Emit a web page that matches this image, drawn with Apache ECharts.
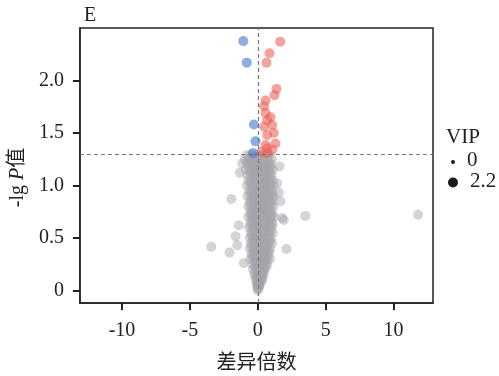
<!DOCTYPE html>
<html>
<head>
<meta charset="utf-8">
<script src="https://cdn.jsdelivr.net/npm/echarts@6/dist/echarts.min.js"></script>
<style>
  html, body { margin: 0; padding: 0; background: #fff; }
  #chart { width: 499px; height: 376px; }
</style>
</head>
<body>
<div id="chart"></div>
<script>
// 横轴刻度 / 纵轴刻度
var xTicks = [-10, -5, 0, 5, 10];
var yTicks = [0, 0.5, 1, 1.5, 2];
var pThreshold = 1.3; // -lg(0.05)

// 上调 (红)
var upPoints = [
  [1.65, 2.37], [0.86, 2.26], [0.64, 2.17], [1.38, 1.92], [1.23, 1.86],
  [0.57, 1.81], [0.46, 1.755], [0.57, 1.69], [0.93, 1.65], [0.69, 1.62],
  [1.06, 1.575], [0.46, 1.56], [1.18, 1.5], [0.69, 1.48], [1.3, 1.4],
  [0.57, 1.385], [1.06, 1.34], [0.69, 1.31], [0.69, 1.355], [0.32, 1.32]
];

// 下调 (蓝)
var downPoints = [
  [-1.07, 2.375], [-0.81, 2.17], [-0.29, 1.58], [-0.17, 1.42], [-0.34, 1.31]
];

// 无显著差异 (灰)
var nsPoints = [
  [-0.8, 1.29], [-0.45, 1.29], [-0.1, 1.29], [0.2, 1.29], [0.5, 1.29], [0.85, 1.29],
  [-0.65, 1.27], [-0.3, 1.27], [0.05, 1.27], [0.35, 1.27], [0.7, 1.27],
  [-0.95, 1.25], [-0.6, 1.25], [-0.25, 1.25], [0.05, 1.25], [0.35, 1.25], [0.7, 1.25], [1.05, 1.25],
  [-0.75, 1.22], [-0.45, 1.22], [-0.1, 1.22], [0.2, 1.22], [0.5, 1.22], [0.85, 1.22],
  [-0.8, 1.2], [-0.4, 1.2], [-0.05, 1.2], [0.3, 1.2], [0.6, 1.2], [0.95, 1.2],
  [-0.65, 1.17], [-0.3, 1.17], [0.0, 1.17], [0.3, 1.17], [0.65, 1.17], [0.95, 1.17],
  [-0.9, 1.15], [-0.55, 1.15], [-0.2, 1.15], [0.15, 1.15], [0.45, 1.15], [0.8, 1.15], [1.1, 1.15],
  [-0.55, 1.12], [-0.15, 1.12], [0.15, 1.12], [0.5, 1.12], [0.85, 1.12],
  [-0.75, 1.1], [-0.35, 1.1], [0.0, 1.1], [0.3, 1.1], [0.65, 1.1], [1.0, 1.1],
  [-0.5, 1.07], [-0.15, 1.07], [0.2, 1.07], [0.55, 1.07], [0.9, 1.07],
  [-0.7, 1.05], [-0.3, 1.05], [0.1, 1.05], [0.4, 1.05], [0.75, 1.05], [1.1, 1.05],
  [-0.55, 1.02], [-0.1, 1.02], [0.25, 1.02], [0.6, 1.02], [0.95, 1.02],
  [-0.8, 1.0], [-0.45, 1.0], [-0.15, 1.0], [0.2, 1.0], [0.5, 1.0], [0.85, 1.0], [1.15, 1.0],
  [-0.45, 0.97], [-0.1, 0.97], [0.2, 0.97], [0.55, 0.97], [0.9, 0.97],
  [-0.65, 0.95], [-0.25, 0.95], [0.05, 0.95], [0.35, 0.95], [0.7, 0.95], [1.05, 0.95],
  [-0.55, 0.92], [-0.25, 0.92], [0.05, 0.92], [0.35, 0.92], [0.7, 0.92], [1.0, 0.92],
  [-0.75, 0.9], [-0.4, 0.9], [-0.1, 0.9], [0.2, 0.9], [0.5, 0.9], [0.85, 0.9], [1.15, 0.9],
  [-0.45, 0.87], [-0.15, 0.87], [0.15, 0.87], [0.45, 0.87], [0.8, 0.87], [1.1, 0.87],
  [-0.6, 0.85], [-0.3, 0.85], [0.0, 0.85], [0.3, 0.85], [0.6, 0.85], [0.95, 0.85],
  [-0.55, 0.82], [-0.25, 0.82], [0.05, 0.82], [0.35, 0.82], [0.7, 0.82], [1.0, 0.82],
  [-0.7, 0.8], [-0.4, 0.8], [-0.15, 0.8], [0.2, 0.8], [0.5, 0.8], [0.85, 0.8], [1.15, 0.8],
  [-0.4, 0.77], [-0.1, 0.77], [0.2, 0.77], [0.5, 0.77], [0.85, 0.77],
  [-0.55, 0.75], [-0.25, 0.75], [0.05, 0.75], [0.35, 0.75], [0.7, 0.75], [1.0, 0.75],
  [-0.55, 0.72], [-0.25, 0.72], [0.1, 0.72], [0.4, 0.72], [0.75, 0.72], [1.05, 0.72],
  [-0.7, 0.7], [-0.4, 0.7], [-0.1, 0.7], [0.25, 0.7], [0.55, 0.7], [0.9, 0.7], [1.2, 0.7],
  [-0.4, 0.67], [-0.05, 0.67], [0.25, 0.67], [0.6, 0.67], [0.9, 0.67],
  [-0.55, 0.65], [-0.2, 0.65], [0.1, 0.65], [0.4, 0.65], [0.75, 0.65], [1.05, 0.65],
  [-0.5, 0.62], [-0.2, 0.62], [0.1, 0.62], [0.45, 0.62], [0.8, 0.62], [1.1, 0.62],
  [-0.65, 0.6], [-0.35, 0.6], [-0.05, 0.6], [0.25, 0.6], [0.6, 0.6], [0.95, 0.6],
  [-0.35, 0.57], [0.0, 0.57], [0.3, 0.57], [0.65, 0.57], [0.95, 0.57],
  [-0.5, 0.55], [-0.15, 0.55], [0.15, 0.55], [0.45, 0.55], [0.8, 0.55], [1.1, 0.55],
  [-0.45, 0.52], [-0.15, 0.52], [0.15, 0.52], [0.45, 0.52], [0.8, 0.52],
  [-0.6, 0.5], [-0.3, 0.5], [0.0, 0.5], [0.3, 0.5], [0.6, 0.5], [0.95, 0.5],
  [-0.35, 0.47], [-0.05, 0.47], [0.25, 0.47], [0.55, 0.47], [0.9, 0.47],
  [-0.5, 0.45], [-0.2, 0.45], [0.1, 0.45], [0.4, 0.45], [0.75, 0.45], [1.05, 0.45],
  [-0.45, 0.42], [-0.15, 0.42], [0.15, 0.42], [0.4, 0.42], [0.7, 0.42],
  [-0.6, 0.4], [-0.3, 0.4], [0.0, 0.4], [0.25, 0.4], [0.55, 0.4], [0.9, 0.4],
  [-0.3, 0.37], [0.0, 0.37], [0.3, 0.37], [0.6, 0.37], [0.85, 0.37],
  [-0.45, 0.35], [-0.15, 0.35], [0.15, 0.35], [0.45, 0.35], [0.75, 0.35],
  [-0.4, 0.32], [-0.1, 0.32], [0.2, 0.32], [0.45, 0.32], [0.75, 0.32],
  [-0.55, 0.3], [-0.25, 0.3], [0.05, 0.3], [0.3, 0.3], [0.6, 0.3], [0.9, 0.3],
  [-0.25, 0.27], [0.05, 0.27], [0.35, 0.27], [0.6, 0.27],
  [-0.4, 0.25], [-0.1, 0.25], [0.2, 0.25], [0.45, 0.25], [0.7, 0.25],
  [-0.2, 0.22], [0.1, 0.22], [0.35, 0.22], [0.6, 0.22],
  [-0.35, 0.2], [-0.05, 0.2], [0.25, 0.2], [0.5, 0.2],
  [-0.15, 0.18], [0.15, 0.18], [0.4, 0.18],
  [-0.25, 0.16], [0.05, 0.16], [0.3, 0.16], [0.45, 0.16],
  [-0.1, 0.14], [0.1, 0.14], [0.28, 0.14],
  [-0.2, 0.12], [0.0, 0.12], [0.2, 0.12], [0.35, 0.12],
  [-0.05, 0.1], [0.15, 0.1], [0.3, 0.1],
  [-0.1, 0.08], [0.08, 0.08], [0.22, 0.08],
  [0.0, 0.07], [0.15, 0.07],
  [-0.06, 0.05], [0.05, 0.05], [0.13, 0.05],
  [0.02, 0.035], [0.1, 0.035],
  [-0.02, 0.02], [0.04, 0.02], [0.0, 0.0],
  // 离群点
  [-1.95, 0.87], [-3.43, 0.415], [-2.08, 0.36], [3.5, 0.71], [11.8, 0.72],
  [-1.4, 0.62], [-1.64, 0.515], [-1.51, 0.43], [2.11, 0.395], [1.91, 0.67],
  [1.6, 1.18], [-1.32, 1.12], [-1.03, 0.26], [1.67, 0.85], [1.55, 0.93],
  [-1.15, 1.21], [1.42, 1.02], [1.8, 0.69]
];

var serif = '"Liberation Serif", "Noto Sans CJK SC"';
var frameColor = "#222";

var chart = echarts.init(document.getElementById("chart"));
chart.setOption({
  backgroundColor: "#fff",
  animation: false,
  title: {
    text: "E",
    left: 79,
    top: 1,
    textStyle: { fontFamily: serif, fontSize: 20, fontWeight: "normal", color: frameColor },
  },
  grid: {
    left: 79,
    right: 66,
    top: 28,
    bottom: 72,
    show: true,
    borderColor: frameColor,
    borderWidth: 1.5,
  },
  xAxis: {
    type: "value",
    min: -13.1,
    max: 12.9,
    name: "差异倍数",
    nameLocation: "middle",
    nameGap: 48,
    nameTextStyle: { fontFamily: '"Noto Sans CJK SC"', fontSize: 20, color: frameColor },
    axisLine: { show: true, onZero: false, lineStyle: { color: frameColor, width: 1.5 } },
    splitLine: { show: false },
    axisTick: { show: true, length: 7, customValues: xTicks, lineStyle: { color: frameColor, width: 2 } },
    axisLabel: {
      customValues: xTicks,
      margin: 18,
      fontFamily: serif,
      fontSize: 20,
      color: frameColor,
    },
  },
  yAxis: {
    type: "value",
    min: -0.12,
    max: 2.5,
    name: "-lg {i|P}值",
    nameLocation: "middle",
    nameGap: 50,
    nameRotate: 90,
    nameTextStyle: {
      fontFamily: serif,
      fontSize: 20,
      color: frameColor,
      padding: [0, 24, 0, 0],
      rich: { i: { fontFamily: serif, fontSize: 20, fontStyle: "italic", color: frameColor } },
    },
    axisLine: { show: true, onZero: false, lineStyle: { color: frameColor, width: 1.5 } },
    splitLine: { show: false },
    axisTick: { show: true, length: 7, customValues: yTicks, lineStyle: { color: frameColor, width: 2 } },
    axisLabel: {
      customValues: yTicks,
      margin: 16,
      fontFamily: serif,
      fontSize: 20,
      color: frameColor,
      formatter: function (v) {
        return v === 0 ? "0" : v.toFixed(1);
      },
    },
  },
  series: [
    {
      // 阈值虚线, 放在点的下面
      name: "threshold",
      type: "line",
      data: [],
      z: 1,
      markLine: {
        silent: true,
        symbol: "none",
        label: { show: false },
        lineStyle: { type: [4, 3], color: "#777", width: 1.2 },
        data: [{ yAxis: pThreshold }, { xAxis: 0 }],
      },
    },
    {
      name: "ns",
      type: "scatter",
      data: nsPoints,
      symbolSize: 10,
      z: 2,
      itemStyle: { color: "rgba(163,166,169,0.6)" },
    },
    {
      name: "down",
      type: "scatter",
      data: downPoints,
      symbolSize: 10,
      z: 3,
      itemStyle: { color: "rgba(80,125,205,0.8)" },
    },
    {
      name: "up",
      type: "scatter",
      data: upPoints,
      symbolSize: 10,
      z: 3,
      itemStyle: { color: "rgba(235,100,90,0.75)" },
    },
  ],
  graphic: [
    { type: "text", x: 446, y: 137, style: { text: "VIP", font: "21px " + serif, fill: frameColor, verticalAlign: "middle" } },
    { type: "circle", shape: { cx: 453, cy: 162, r: 2 }, style: { fill: "#1a1a1a" } },
    { type: "text", x: 467, y: 160, style: { text: "0", font: "21px " + serif, fill: frameColor, verticalAlign: "middle" } },
    { type: "circle", shape: { cx: 453, cy: 182.5, r: 5 }, style: { fill: "#1a1a1a" } },
    { type: "text", x: 470, y: 181, style: { text: "2.2", font: "21px " + serif, fill: frameColor, verticalAlign: "middle" } },
  ],
});
</script>
</body>
</html>
